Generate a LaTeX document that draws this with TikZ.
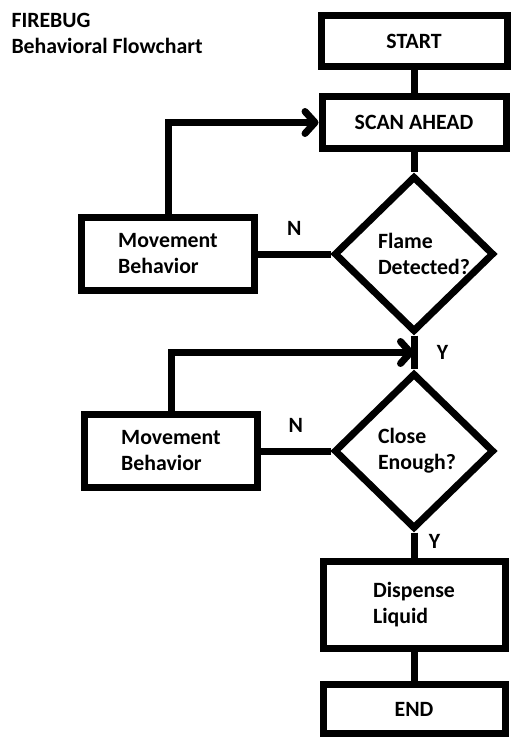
\documentclass[tikz,border=0pt]{standalone}
\usepackage{fontspec}
\setmainfont{Carlito}
\usetikzlibrary{positioning,calc,shapes.geometric,arrows.meta}

\begin{document}
\begin{tikzpicture}[x=1pt, y=1pt, on grid, auto, line width=7pt,
  font=\fontsize{21.8}{26}\selectfont\bfseries,
  box/.style={draw, rectangle, inner sep=0pt, align=left},
  decision/.style={draw, diamond, inner sep=0pt, minimum width=160pt,
    minimum height=156pt, text width=72pt, align=left},
  into/.style={-{Straight Barb[length=10pt,width=22pt,round]}}]
  \useasboundingbox (0,0) rectangle (511,-738);

  \node[anchor=north west, inner sep=0pt, align=left] (title) at (8,-9.5)
    {FIREBUG\\Behavioral Flowchart};

  \node[box, minimum width=186pt, minimum height=51pt] (start) at (414,-41) {START};
  \node[box, minimum width=184pt, minimum height=52pt] (scan) [below=81.5pt of start] {SCAN AHEAD};
  \node[decision] (flame) [below=131.5pt of scan] {Flame\\Detected?};
  \node[decision] (close) [below=197pt of flame] {Close\\Enough?};
  \node[box, minimum width=182pt, minimum height=87pt] (dispense) [below=154pt of close] {Dispense\\Liquid};
  \node[box, minimum width=182pt, minimum height=49pt] (end) [below=104pt of dispense] {END};
  \node[box, minimum width=173pt, minimum height=73pt] (move1) [left=246pt of flame] {Movement\\Behavior};
  \node[box, minimum width=173pt, minimum height=73pt] (move2) [left=243pt of close] {Movement\\Behavior};

  \coordinate (join) at ($(flame.south)!.5!(close.north)$);

  \path (start) edge (scan);
  \path (scan) edge (flame);
  \path (flame) edge node[above=12pt] {N} (move1);
  \path (flame) edge node[right=16pt] {Y} (close);
  \path (close) edge node[above=12pt] {N} (move2);
  \path (close) edge node[right=8pt, pos=0.35] {Y} (dispense);
  \path (dispense) edge (end);
  \draw[into] (move1) |- (scan);
  \draw[into] (move2) |- (join);
\end{tikzpicture}
\end{document}
